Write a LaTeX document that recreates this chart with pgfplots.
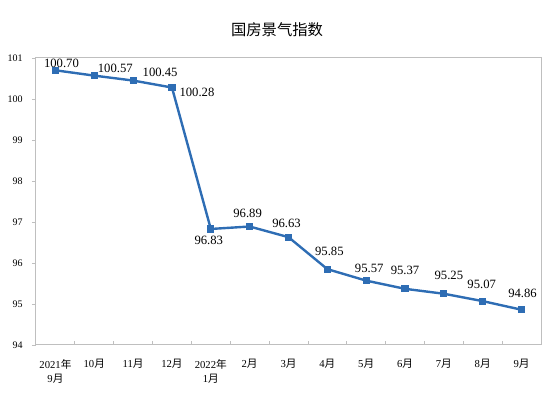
\documentclass[border=0pt]{standalone}
\usepackage{fontspec}
\setmainfont{Liberation Serif}
\newfontfamily\cjk{Noto Sans CJK SC}
\usepackage{pgfplots}
\pgfplotsset{compat=1.18}
\definecolor{lineblue}{HTML}{2E6DB4}
\definecolor{framegray}{HTML}{BFBFBF}
\newcommand\nian{{\cjk 年}}
\newcommand\yue{{\cjk 月}}

\begin{document}
\begin{tikzpicture}
\useasboundingbox (-27pt,-45.75pt) rectangle (390pt,258.75pt);
\begin{axis}[
    at={(0,0)}, anchor=south west,
    scale only axis,
    width=378.75pt, height=215.25pt,
    xmin=-0.5, xmax=12.5,
    ymin=94, ymax=101,
    ytick={94,...,101},
    xtick={0,...,12},
    xticklabels={{2021\nian\\9\yue}, 10\yue, 11\yue, 12\yue, {2022\nian\\1\yue},
                 2\yue, 3\yue, 4\yue, 5\yue, 6\yue, 7\yue, 8\yue, 9\yue},
    minor xtick={0.5,1.5,...,11.5},
    major x tick style={draw=none},
    minor x tick style={yshift=3pt},
    minor tick length=3pt,
    major tick length=3pt,
    tick align=outside,
    tick pos=left,
    tick style={framegray, line width=0.6pt},
    axis line style={framegray, line width=0.75pt},
    xticklabel style={align=center, font=\fontsize{8}{10.5}\selectfont, yshift=-4pt},
    yticklabel style={font=\fontsize{7.5}{9}\selectfont, xshift=-3.5pt},
    /pgf/number format/assume math mode=true,
    title={\cjk 国房景气指数},
    title style={at={(0.5,1)}, anchor=center, yshift=15pt, xshift=-8.6pt,
                 font=\fontsize{11.5}{13}\selectfont},
    clip=false,
  ]
  % columns: index, value, label shift x and y (pt)
  \addplot[lineblue, line width=1.8pt, mark=square*, mark size=1.8pt,
           mark options={solid},
           visualization depends on={\thisrow{dx} \as \dx},
           visualization depends on={\thisrow{dy} \as \dy},
           nodes near coords={\pgfmathprintnumber[fixed,fixed zerofill,precision=2]{\pgfplotspointmeta}},
           every node near coord/.append style={anchor=center, text=black,
               font=\fontsize{9.5}{11}\selectfont, xshift=\dx pt, yshift=\dy pt}]
    table[x=x, y=y] {
x  y       dx     dy
0  100.70  4.5    5.25
1  100.57  15.75  5.25
2  100.45  20.25  6
3  100.28  18.75  -3.75
4  96.83   -1.5   -8.25
5  96.89   -1.5   9.75
6  96.63   -1.5   10.5
7  95.85   1.5    13.5
8  95.57   2.25   9
9  95.37   0      13.5
10 95.25   3.75   13.5
11 95.07   -0.75  12.75
12 94.86   0.75   12
};
  % top and right edges of the frame
  \draw[framegray, line width=0.75pt]
    (rel axis cs:0,1) -- (rel axis cs:1,1) -- (rel axis cs:1,0);
\end{axis}
\end{tikzpicture}
\end{document}
